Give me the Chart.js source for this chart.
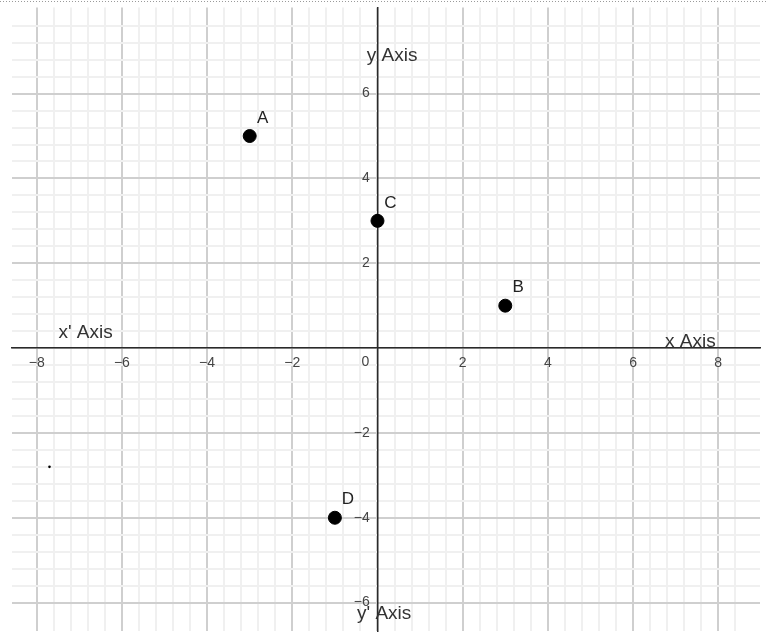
<!DOCTYPE html>
<html>
<head>
<meta charset="utf-8">
<title>Points on the coordinate plane</title>
<script src="https://cdn.jsdelivr.net/npm/chart.js@4/dist/chart.umd.min.js"></script>
<style>
  html, body { margin: 0; padding: 0; background: #fff; }
  #wrap { width: 768px; height: 642px; position: relative; }
</style>
</head>
<body>
<div id="wrap"><canvas id="plane"></canvas></div>
<script>
'use strict';

// plotted points
const pointNames = ['A', 'B', 'C', 'D'];
const pointX = [-3, 3, 0, -1];
const pointY = [5, 1, 3, -4];

// the tiny stray dot on the left
const strayX = [-7.7];
const strayY = [-2.8];

// labelled ticks (0 is drawn once near the origin)
const tickLabels = [-8, -6, -4, -2, 2, 4, 6, 8];

// axis name texts, anchored in data units (left edge, vertical centre)
const axisNames = ['y Axis', "x' Axis", 'x Axis', "y' Axis"];
const axisNameX = [-0.25, -7.49, 6.75, -0.48];
const axisNameY = [6.9, 0.35, 0.14, -6.26];

const FONT = '"Liberation Sans", Arial, sans-serif';
const minus = v => (v < 0 ? '\u2212' + Math.abs(v) : String(v));

// minor line every 0.4, major every 2
function gridColor(ctx) {
    const v = ctx.tick.value;
    const k = Math.round(v / 0.4);
    if (Math.abs(k * 0.4 - v) > 1e-6) return 'rgba(0,0,0,0)';
    return k % 5 === 0 ? '#cfcfcf' : '#f0f0f0';
}
function tickText(v) {
    const r = Math.round(v);
    if (Math.abs(r - v) > 1e-6) return '';
    return tickLabels.includes(r) ? minus(r) : '';
}
// y labels are right-aligned on the axis line; trailing spaces keep them off it
function yTickText(v) {
    const t = tickText(v);
    return t ? t + '  ' : '';
}
// axes sit inside the plot, so no edge padding for their labels
function noEdgePadding(scale) {
    scale.paddingTop = 0;
    scale.paddingBottom = 0;
    scale.paddingLeft = 0;
    scale.paddingRight = 0;
}

const labelPlugin = {
    id: 'planeLabels',
    afterDraw(chart) {
        const { ctx, scales: { x, y } } = chart;
        ctx.save();
        // dotted frame line along the top
        ctx.strokeStyle = '#9a9a9a';
        ctx.lineWidth = 1;
        ctx.setLineDash([1, 2]);
        ctx.beginPath();
        ctx.moveTo(0, 1.5);
        ctx.lineTo(chart.width, 1.5);
        ctx.stroke();
        ctx.setLineDash([]);

        // origin label
        ctx.fillStyle = '#444';
        ctx.font = '14px ' + FONT;
        ctx.textAlign = 'center';
        ctx.textBaseline = 'middle';
        ctx.fillText('0', x.getPixelForValue(0) - 12, y.getPixelForValue(0) + 14);

        // point names
        ctx.fillStyle = '#222';
        ctx.font = '17px ' + FONT;
        const meta = chart.getDatasetMeta(0);
        meta.data.forEach((el, i) => {
            ctx.fillText(pointNames[i], el.x + 13, el.y - 18);
        });

        // axis names
        ctx.fillStyle = '#333';
        ctx.font = '19px ' + FONT;
        ctx.textAlign = 'left';
        axisNames.forEach((t, i) => {
            ctx.fillText(t, x.getPixelForValue(axisNameX[i]), y.getPixelForValue(axisNameY[i]));
        });
        ctx.restore();
    }
};

new Chart(document.getElementById('plane'), {
    type: 'scatter',
    data: {
        datasets: [{
            data: pointX.map((v, i) => ({ x: v, y: pointY[i] })),
            backgroundColor: '#000',
            borderColor: '#000',
            pointRadius: 6.5,
            pointHoverRadius: 6.5
        }, {
            data: strayX.map((v, i) => ({ x: v, y: strayY[i] })),
            backgroundColor: '#000',
            borderColor: '#000',
            pointRadius: 1.3,
            borderWidth: 0
        }]
    },
    options: {
        responsive: true,
        maintainAspectRatio: false,
        animation: false,
        layout: { padding: { left: 12, top: 5, right: 8, bottom: 11 } },
        plugins: { legend: { display: false }, tooltip: { enabled: false } },
        scales: {
            x: {
                type: 'linear',
                position: { y: 0 },
                min: -8.58,
                max: 8.98,
                afterFit: noEdgePadding,
                border: { display: true, color: '#2a2a2a', width: 1.5 },
                grid: { color: gridColor, lineWidth: 2, drawTicks: false },
                ticks: {
                    stepSize: 0.4,
                    autoSkip: false,
                    maxRotation: 0,
                    padding: 7,
                    color: '#444',
                    font: { family: FONT, size: 14 },
                    callback: tickText
                }
            },
            y: {
                type: 'linear',
                position: { x: 0 },
                min: -6.67,
                max: 8.03,
                afterFit: noEdgePadding,
                border: { display: true, color: '#2a2a2a', width: 1.5 },
                grid: { color: gridColor, lineWidth: 2, drawTicks: false },
                ticks: {
                    stepSize: 0.4,
                    autoSkip: false,
                    color: '#444',
                    font: { family: FONT, size: 14 },
                    callback: yTickText
                }
            }
        }
    },
    plugins: [labelPlugin]
});
</script>
</body>
</html>
